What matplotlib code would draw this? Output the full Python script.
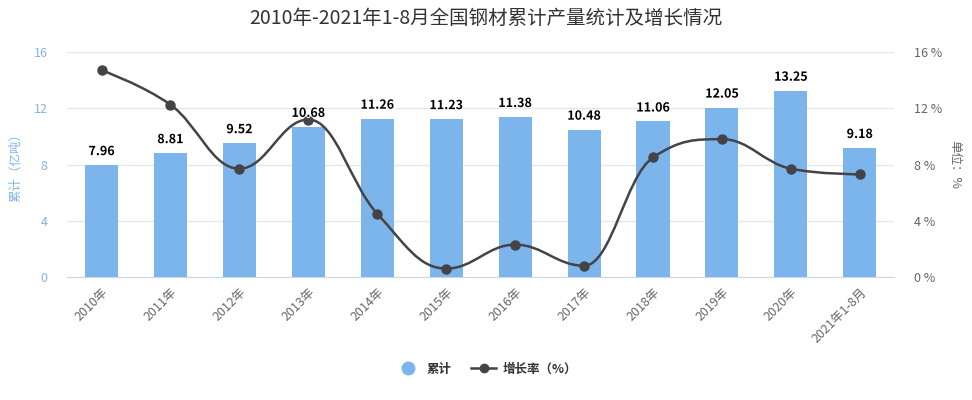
import matplotlib
matplotlib.use("Agg")
import matplotlib.pyplot as plt
import matplotlib.patheffects as pe
from matplotlib.path import Path
from matplotlib.patches import PathPatch
from matplotlib.lines import Line2D

plt.rcParams['font.family'] = ['Noto Sans CJK SC', 'DejaVu Sans']

# 数据
years = ["2010年", "2011年", "2012年", "2013年", "2014年", "2015年",
         "2016年", "2017年", "2018年", "2019年", "2020年", "2021年1-8月"]
output = [7.96, 8.81, 9.52, 10.68, 11.26, 11.23, 11.38, 10.48, 11.06, 12.05, 13.25, 9.18]
growth = [14.7, 12.25, 7.7, 11.2, 4.5, 0.6, 2.3, 0.8, 8.5, 9.8, 7.7, 7.3]


def spline_path(xs, ys, smoothing=1.5):
    # courbe lissée façon Highcharts (bezier passant par les points)
    denom = smoothing + 1
    n = len(xs)
    left = [None] * n
    right = [None] * n
    for i in range(1, n - 1):
        px, py = xs[i], ys[i]
        lx, ly = xs[i - 1], ys[i - 1]
        nx, ny = xs[i + 1], ys[i + 1]
        lcx = (smoothing * px + lx) / denom
        lcy = (smoothing * py + ly) / denom
        rcx = (smoothing * px + nx) / denom
        rcy = (smoothing * py + ny) / denom
        if rcx != lcx:
            corr = ((rcy - lcy) * (rcx - px)) / (rcx - lcx) + py - rcy
            lcy += corr
            rcy += corr
        if lcy > ly and lcy > py:
            lcy = max(ly, py)
            rcy = 2 * py - lcy
        elif lcy < ly and lcy < py:
            lcy = min(ly, py)
            rcy = 2 * py - lcy
        if rcy > ny and rcy > py:
            rcy = max(ny, py)
            lcy = 2 * py - rcy
        elif rcy < ny and rcy < py:
            rcy = min(ny, py)
            lcy = 2 * py - rcy
        left[i] = (lcx, lcy)
        right[i] = (rcx, rcy)
    verts = [(xs[0], ys[0])]
    codes = [Path.MOVETO]
    for i in range(1, n):
        c1 = right[i - 1] if right[i - 1] else (xs[i - 1], ys[i - 1])
        c2 = left[i] if left[i] else (xs[i], ys[i])
        verts += [c1, c2, (xs[i], ys[i])]
        codes += [Path.CURVE4] * 3
    return Path(verts, codes)


fig = plt.figure(figsize=(9.72, 4.0), dpi=100)
ax = fig.add_axes([0.069, 0.3075, 0.851, 0.5625])
ax2 = ax.twinx()

x = list(range(len(years)))
ax.bar(x, output, width=0.48, color="#7cb5ec", zorder=2)

ax.set_xlim(-0.5, len(years) - 0.5)
ax.set_ylim(0, 16)
ax.set_yticks([0, 4, 8, 12, 16])
ax.grid(axis="y", color="#e6e6e6", linewidth=1, zorder=0)
ax.set_axisbelow(True)
for s in ["top", "left", "right"]:
    ax.spines[s].set_visible(False)
    ax2.spines[s].set_visible(False)
ax2.spines["bottom"].set_visible(False)
ax.spines["bottom"].set_color("#ccd6eb")
ax.tick_params(axis="y", length=0, colors="#7cb5ec", labelsize=9, pad=14)
ax.tick_params(axis="x", length=0, colors="#666666", labelsize=9, pad=6)
ax.set_xticks(x)
ax.set_xticklabels(years, rotation=45, ha="right", rotation_mode="anchor")
ax.set_ylabel("累计（亿吨）", color="#7cb5ec", fontsize=9, labelpad=8)

# axe de droite (même échelle 0-16, pour les pourcentages)
ax2.set_ylim(0, 16)
ax2.set_yticks([0, 4, 8, 12, 16])
ax2.set_yticklabels([f"{v} %" for v in [0, 4, 8, 12, 16]])
ax2.tick_params(axis="y", length=0, colors="#666666", labelsize=9, pad=14)
ax2.set_ylabel("单位：%", color="#666666", fontsize=9, rotation=270, labelpad=14)

# la courbe est tracée sur ax (même échelle) pour passer au-dessus des barres
ax.add_patch(PathPatch(spline_path(x, growth), facecolor="none",
                       edgecolor="#434348", linewidth=1.8, zorder=3))
ax.plot(x, growth, linestyle="none", marker="o", markersize=6.5,
        color="#434348", zorder=4)

for xi, v in zip(x, output):
    ax.annotate(f"{v:.2f}", (xi, v), xytext=(0, 5), textcoords="offset points",
                ha="center", va="bottom", fontsize=9, fontweight="bold",
                color="#000000", zorder=5,
                path_effects=[pe.withStroke(linewidth=1.5, foreground="white")])
ax.set_zorder(ax2.get_zorder() + 1)
ax.patch.set_visible(False)

fig.text(0.5, 0.955, "2010年-2021年1-8月全国钢材累计产量统计及增长情况",
         ha="center", va="center", fontsize=14, color="#333333")

handles = [
    Line2D([], [], linestyle="none", marker="o", markersize=9, color="#7cb5ec"),
    Line2D([], [], color="#434348", linewidth=1.8, marker="o", markersize=6),
]
fig.legend(handles, ["累计", "增长率（%）"], loc="center", bbox_to_anchor=(0.5, 0.077),
           ncol=2, frameon=False, prop={"size": 9, "weight": "bold"},
           labelcolor="#333333", handlelength=2.0, columnspacing=1.6, handletextpad=0.5)

plt.savefig("out.png", dpi=100)
